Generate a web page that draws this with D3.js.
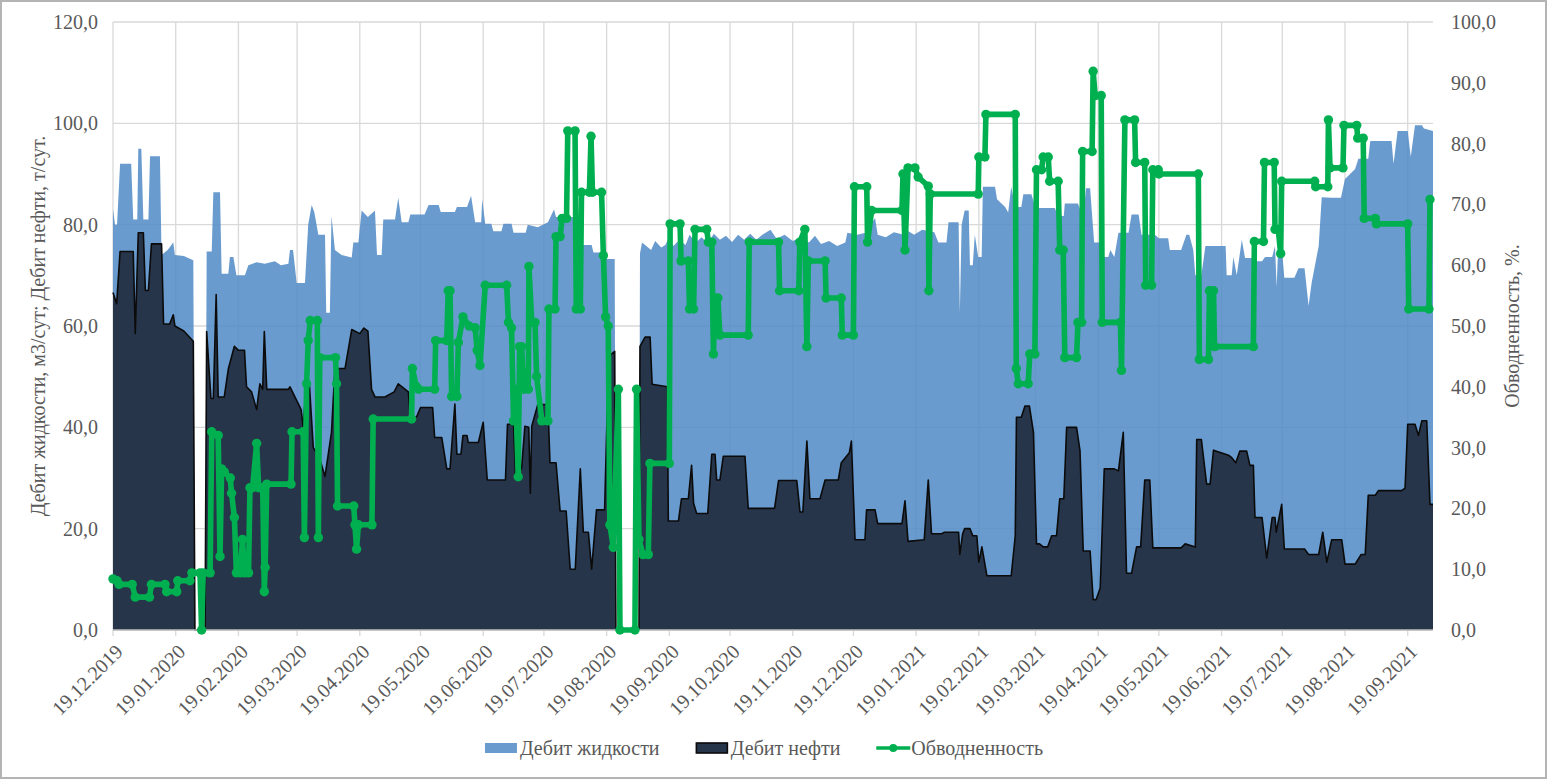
<!DOCTYPE html>
<html>
<head>
<meta charset="utf-8">
<script src="https://cdn.jsdelivr.net/npm/d3@7"></script>
<style>
  html, body { margin: 0; padding: 0; background: #fff; }
  svg text { font-family: "Liberation Serif", "Times New Roman", "DejaVu Serif", serif; }
</style>
</head>
<body>
<svg id="chart" width="1547" height="779"></svg>
<script>
// series are [day since START, value] vertices
const START = "19.12.2019";
const LAST_DAY = 652.5;

const dateTicks = ["19.12.2019", "19.01.2020", "19.02.2020", "19.03.2020", "19.04.2020",
  "19.05.2020", "19.06.2020", "19.07.2020", "19.08.2020", "19.09.2020", "19.10.2020",
  "19.11.2020", "19.12.2020", "19.01.2021", "19.02.2021", "19.03.2021", "19.04.2021",
  "19.05.2021", "19.06.2021", "19.07.2021", "19.08.2021", "19.09.2021"];
const leftTicks = [0, 20, 40, 60, 80, 100, 120];
const rightTicks = [0, 10, 20, 30, 40, 50, 60, 70, 80, 90, 100];
const seriesNames = ["Дебит жидкости", "Дебит нефти", "Обводненность"];

// Дебит жидкости, м3/сут
const liquidRate = [[0,83],[1,80],[2,80],[3.5,92],[9,92],[10,81],[12,81],[12.5,95],[14,95],[15,81],[17.5,81],
  [18.3,93.5],[23.2,93.5],[24,74],[27,75],[29.8,76.5],[30.6,74],[35,73.8],[39.7,73],[40.5,0],[45.5,0],
  [46.3,74.7],[48.8,74.7],[49.6,86.4],[52.9,86.4],[53.7,70.3],[57,70.3],[57.8,73.6],[59.5,73.6],[61,70],
  [65.2,70],[66.9,72],[71,72.6],[75,72.3],[80,72.8],[83,72],[86.7,72.3],[87.5,75],[89,75],[90.8,68.5],
  [94.9,68.5],[96.5,80],[98.2,83.9],[99.5,82.5],[101.5,78],[104.8,78],[105.4,62.6],[107.2,62.6],[108,81.7],
  [109.7,75],[113,74],[118,73.5],[118.8,76.5],[121.3,76.5],[122.9,82.8],[126,81.5],[129.5,82.8],[130.5,74],
  [132.8,74],[133.6,81],[139.4,81],[141,85.3],[142.7,80.5],[146,80.5],[147,82],[154,82],[156,83.9],[161,83.9],
  [162,82.5],[169,82.5],[170,83.5],[175,83.5],[177,85.7],[179,80.5],[182,80.5],[182.5,85],[184,80.2],[187,80.2],
  [188,78.7],[192,78.7],[193,80.2],[197,80.2],[198,78.4],[204,78.4],[205,80],[210,79.5],[215,80.5],[218,83],
  [219,81.5],[228,81.5],[229,76],[236.6,76],[237.5,74.5],[243,74.5],[244,73.2],[248,73.2],[248.6,0],[260,0],
  [260.5,74.3],[261.5,76.5],[266,75],[268,76.8],[271,75.5],[273,76],[275,77.5],[277,75.8],[280,77],[283,76],
  [285,78],[288,76.5],[291,77.5],[294,76.3],[297,78.2],[300,77],[303,77.8],[306,76.6],[309,78],[312,77],
  [315,78.2],[318,77],[321,78],[325,79],[328,77.2],[332,78],[336,76.8],[340,77.5],[344,76.5],[347,77.8],
  [350,76.2],[354,76.8],[358,75.8],[362,76.5],[363,78.4],[368,78],[372,78.4],[376.7,81.3],[378,78],[382,77.5],
  [386,78.5],[391,78],[392,79],[396,78],[400,79],[406,78.5],[408,76.5],[412,76.5],[413,80.5],[418,80.5],
  [418.6,62.6],[419.5,80],[421,82.8],[423,82.8],[423.6,72],[425,72],[426,78],[427.7,73.6],[429.4,73.6],
  [430,87.5],[436,87.5],[437,85],[441,83.5],[442.5,82.4],[444,87.5],[446,83.5],[449,83.5],[450,86],[454,86],
  [456,83.3],[465.6,83.3],[467,81.7],[470,81.7],[470.5,84.2],[477,84.2],[478,83.1],[480,83.1],[481,87.2],
  [483,87.2],[485,76.5],[488.6,76.5],[489.5,73.6],[492,73.6],[493,75],[495,73.6],[497,78.4],[502,78.4],
  [503.5,82],[507,82],[508.4,78],[515,78],[517,77.3],[521.6,77.3],[522.4,75],[528,75],[530.6,78],[532,78],
  [534,75],[535,70],[538,70],[540,75.8],[550,75.8],[550.5,70],[553,70],[553.8,73.6],[555.5,70],[558,77],
  [559.6,73.4],[563,73.4],[564.5,72.8],[568,72.8],[569.5,73.6],[573,73.6],[574.4,75.8],[575.2,67.7],[576,75.8],
  [577.7,75.8],[579,69.5],[584,69.5],[586,71.4],[589,71.4],[591,64],[592.5,68.5],[596,75.8],[597.5,85.4],
  [602,85.3],[607,85.3],[609,89],[614,91],[615.6,93],[620.5,93],[621.5,96.5],[632,96.5],[633,92],[635,98.5],
  [640,98.5],[641.5,93.4],[643.6,99.6],[647,99.6],[648,99],[652.5,98.5]];

// Дебит нефти, т/сут
const oilRate = [[0,66.6],[1.8,64.4],[3.5,74.7],[10,74.7],[11,58.5],[12.5,78.4],[15,78.4],[16,67],[17.5,67],
  [19,76.2],[24,76.2],[25,60.4],[28,60.4],[29.8,62.2],[30.6,60],[35,59],[39.7,57],[40.5,0],[45.5,0],[46.3,58.9],
  [48.4,45.7],[49.6,45.7],[51,66.2],[52,46],[55,46],[57,51.5],[60,56],[62,55.2],[65,55.2],[66,48],[68.5,47],
  [71,43.5],[72.6,48.6],[74,47.5],[74.8,58.9],[76,47.5],[86.7,47.5],[87.5,48],[93,43.5],[94,40],[95.7,49.4],
  [97,49],[99,36],[102,34],[104.8,30.3],[108,39],[109.7,51.6],[114.7,51.6],[118,59.3],[122,58.5],[124,59.6],
  [126,59],[127.8,47.5],[129.5,46],[134.4,46],[139,47],[141,48.6],[146,47],[147,42],[150,42],[152,43.9],
  [158,43.9],[159,38],[162.5,38],[165,31.8],[166.6,31.8],[169,44.6],[170,34.7],[172,34.7],[173,38.4],[175,38.4],
  [175.6,37],[180.6,37],[183,41],[185,29.6],[194,29.6],[195,40.6],[198,40.6],[199,30],[202,32],[203.6,40.2],
  [205.5,40],[206.3,27],[207,40.2],[210,44.5],[215,44.5],[216,33],[219,33],[221,23.5],[224,23.5],[226,12],
  [228.5,12],[231,31.8],[232.5,19.3],[235,19.3],[236.6,12],[239,23.7],[243,23.7],[245,54],[248,55],[248.6,0],
  [260,0],[260.5,56],[263,57.8],[265.5,57.8],[266.5,48.5],[274,48],[274.5,21.5],[279.5,21.5],[281,25.9],
  [284.4,25.9],[286,32.5],[287,25],[288.5,23],[294,23],[296,34.7],[297.6,34.7],[298.4,29.6],[300,29.6],
  [301.7,34.3],[312.4,34.3],[314,24],[327,24],[329,29.5],[338,29.5],[339.6,23.3],[341,23.3],[343,37.3],
  [344.5,25.9],[349.5,25.9],[352,29.6],[358.5,29.6],[360,33],[364,35],[365,37.3],[366.8,17.8],[371.7,17.8],
  [372.5,23.7],[376.7,23.7],[378,21],[390,21],[391.5,25.5],[393,17.5],[401,17.8],[403,29.6],[404.6,19],
  [409.6,19],[411,19.3],[418,19.3],[418.6,14.9],[420,19],[421,20],[423.6,20],[425,18.6],[427,18.6],[428,13.4],
  [429.5,16.4],[432,10.7],[444,10.7],[446,18.6],[446.6,42],[449,42],[450.8,44.2],[453,44.2],[455,39],
  [456.5,17],[458,17],[459.8,16.4],[462,16.4],[464,18.6],[466.4,18.6],[468,25.9],[470,25.9],[471.4,40],
  [476.3,40],[478,35.4],[479.6,15.6],[483,15.6],[484.5,6],[486,6],[488,8.3],[490,31.8],[495,31.8],[497,31.4],
  [499.4,39],[501,11.2],[503.5,11.2],[506,16.4],[508,16.4],[510,29.6],[512.5,29.6],[514,16.2],[528,16.2],
  [530,17],[535,16.4],[535.7,37.6],[538,37.6],[540.6,28.8],[542.3,28.8],[544,35.5],[551.4,34.5],[553,34],
  [555,33],[557,35.3],[560.4,35.3],[562,32.5],[563.7,32.5],[564.5,22.2],[568,22.2],[570.3,14.2],[573,22.2],
  [574.4,22.2],[575,19.3],[577.7,24.8],[579,16],[589,16],[591,14.9],[596,14.9],[598,19.3],[600,13.4],
  [602.4,17.8],[607.4,17.8],[609,13],[614,13],[617,14.9],[619,14.9],[620.5,26.6],[624,26.6],[625.5,27.5],
  [637,27.5],[638.7,28],[640,40.6],[643.6,40.6],[645.3,38.4],[647,41.3],[649.4,41.3],[651,24.8],[652.5,24.8]];

// Обводненность, %
const waterCut = [[0,8.4],[2,8.1],[3,7.5],[9.5,7.5],[11,5.4],[18,5.4],[19,7.5],[25.7,7.5],[26.5,6.3],
  [31.5,6.3],[32,8.1],[38,8.1],[39,9.4],[43,9.4],[43.8,0],[44.6,9.4],[48,9.4],[48.8,32.6],[52,32],[52.9,12.1],
  [53.7,26.5],[55,26],[58,25],[58.6,22.5],[60,18.5],[61,9.4],[63,9.4],[64,14.9],[65,9.4],[67,9.4],[67.7,23.4],
  [69,23.4],[71,30.7],[72,23.4],[74,23.4],[74.8,6.3],[75.2,10.3],[76,24],[88,24],[88.5,32.6],[94,32.6],
  [94.6,15.2],[95.7,40.5],[96.5,47.6],[97.5,50.9],[101,50.9],[101.5,15.2],[102.2,44.8],[110,44.8],[110.5,40.5],
  [111,20.4],[119,20.4],[119.6,17.3],[120.4,13.3],[121.3,17.3],[128,17.3],[128.6,34.7],[147.6,34.7],[148,43],
  [150,40],[151,39.6],[159,39.6],[159.5,47.6],[165,47.6],[165.7,55.8],[166.6,55.8],[167.4,38.4],[170,38.4],
  [170.7,47.3],[173,51.5],[176,50],[179,49.7],[180,46],[181.4,43.5],[184,56.7],[194.6,56.7],[195.5,50.6],
  [197,49.7],[198,34.4],[199,39.6],[200.3,25.2],[201,46.6],[202,46.6],[203,39.6],[205.3,39.6],[205.6,59.8],
  [207,50.6],[208.6,50.6],[209.4,41.7],[212,34.4],[215,34.4],[215.5,52.8],[218.5,52.8],[219,64.7],[221,64.7],
  [222,67.7],[224.2,67.7],[224.8,82.1],[228.4,82.1],[229,52.8],[231,52.8],[231.6,72],[235.5,72],[236.3,81.2],
  [237,72],[241.5,72],[242.4,61.6],[243.5,51.5],[244.8,50],[245.6,17.3],[247.3,13.6],[249.8,39.6],[250.6,0],
  [258,0],[258.8,39.6],[260,14.9],[262,12.4],[264.6,12.4],[265.4,27.4],[275,27.4],[275.4,66.8],[280.3,66.8],
  [280.8,60.7],[284.4,60.7],[285,52.8],[287,52.8],[287.7,65.9],[293.5,65.9],[294.3,63.8],[296,63.8],
  [296.8,45.4],[297.6,54.6],[299,54.6],[300,48.5],[314,48.5],[314.5,63.8],[329,63.8],[329.5,55.8],[339,55.8],
  [339.5,63.8],[342,65.9],[343,46.6],[343.7,60.7],[352,60.7],[352.5,54.6],[360,54.6],[360.5,48.5],[366,48.5],
  [366.5,72.9],[372.6,72.9],[373,63.8],[375,69],[390,69],[390.5,75],[391.5,62.5],[393,76],[396.4,76],
  [398,74.5],[403,73],[403.3,55.8],[404,71.7],[427.7,71.7],[428,77.8],[431,77.8],[431.5,84.8],[446,84.8],
  [446.5,43],[447.5,40.5],[452.4,40.5],[453.2,45.4],[455.7,45.4],[456.5,75.7],[459,75.7],[459.8,77.8],
  [462.3,77.8],[463,73.8],[467.2,73.8],[468,62.5],[469.7,62.5],[470.5,44.8],[476.3,44.8],[477,50.6],
  [478.8,50.6],[479.3,78.7],[484,78.7],[484.5,91.9],[485.5,87.9],[488.5,87.9],[489,50.6],[498,50.6],
  [498.5,42.7],[500.2,83.9],[505,83.9],[505.5,76.9],[510,76.9],[510.5,56.7],[513.4,56.7],[514,75.7],
  [516.7,75.7],[517,75],[536.5,75],[537,44.5],[541.5,44.5],[542,55.8],[544,55.8],[544.5,46.6],[563.7,46.6],
  [564.2,63.9],[568.7,63.9],[569.2,76.9],[574,76.9],[574.4,65.9],[576,65.9],[577.2,61.9],[577.7,73.8],
  [594,73.8],[594.5,72.9],[600.5,72.9],[600.8,83.9],[601.6,76],[608,76],[608.5,83],[614.8,83],[615.3,80.9],
  [618,80.9],[618.5,67.7],[624,67.7],[624.5,66.8],[640,66.8],[640.5,52.8],[650.5,52.8],[651,70.8]];

const W = 1547, H = 779;
const plot = { left: 113, right: 1433, top: 22, bottom: 630 };
const textColor = "#595959";
const gridColor = "#d9d9d9";
const serif = '"Liberation Serif", "Times New Roman", "DejaVu Serif", serif';

const parseDate = d3.utcParse("%d.%m.%Y");
const start = parseDate(START);
const dayToDate = d => new Date(start.getTime() + d * 864e5);
const ru = d3.formatLocale({ decimal: ",", thousands: " ", grouping: [3], currency: ["", ""] });
const fmt = ru.format(".1f");

const x = d3.scaleUtc()
  .domain([start, dayToDate(LAST_DAY)])
  .range([plot.left, plot.right]);
const yL = d3.scaleLinear().domain([0, 120]).range([plot.bottom, plot.top]);
const yR = d3.scaleLinear().domain([0, 100]).range([plot.bottom, plot.top]);

const svg = d3.select("#chart");
svg.append("rect").attr("width", W).attr("height", H).attr("fill", "#fff");

// grid
const grid = svg.append("g");
grid.selectAll("line.h").data(leftTicks).join("line")
  .attr("x1", plot.left).attr("x2", plot.right)
  .attr("y1", d => yL(d)).attr("y2", d => yL(d))
  .attr("stroke", gridColor).attr("stroke-width", 1.3);
grid.selectAll("line.v").data(dateTicks).join("line")
  .attr("x1", d => x(parseDate(d))).attr("x2", d => x(parseDate(d)))
  .attr("y1", plot.top).attr("y2", plot.bottom + 6)
  .attr("stroke", gridColor).attr("stroke-width", 1.3);

// areas
const area = d3.area()
  .x(d => x(dayToDate(d[0]))).y0(yL(0)).y1(d => yL(d[1]));
svg.append("path").datum(liquidRate)
  .attr("d", area)
  .attr("fill", "#4f8ac6").attr("fill-opacity", 0.85);

svg.append("path").datum(oilRate)
  .attr("d", area)
  .attr("fill", "#27354a");
svg.append("path").datum(oilRate)
  .attr("d", d3.line().x(d => x(dayToDate(d[0]))).y(d => yL(d[1])))
  .attr("fill", "none").attr("stroke", "#0b0b0b").attr("stroke-width", 1.6)
  .attr("stroke-linejoin", "round");

// bottom axis line
svg.append("line")
  .attr("x1", plot.left).attr("x2", plot.right)
  .attr("y1", plot.bottom).attr("y2", plot.bottom)
  .attr("stroke", "#bfbfbf").attr("stroke-width", 1.3);

// water cut line with markers
const green = "#00b050";
svg.append("path").datum(waterCut)
  .attr("d", d3.line().x(d => x(dayToDate(d[0]))).y(d => yR(d[1])))
  .attr("fill", "none").attr("stroke", green).attr("stroke-width", 5.6)
  .attr("stroke-linejoin", "round");
svg.append("g").selectAll("circle").data(waterCut).join("circle")
  .attr("cx", d => x(dayToDate(d[0]))).attr("cy", d => yR(d[1]))
  .attr("r", 4.7).attr("fill", green);

// axis labels
const txt = svg.append("g").attr("fill", textColor).attr("font-size", 20).attr("font-family", serif);
txt.selectAll("text.l").data(leftTicks).join("text")
  .attr("x", 98).attr("y", d => yL(d)).attr("dy", "0.35em")
  .attr("text-anchor", "end").text(d => fmt(d));
txt.selectAll("text.r").data(rightTicks).join("text")
  .attr("x", 1451).attr("y", d => yR(d)).attr("dy", "0.35em")
  .text(d => fmt(d));
txt.selectAll("text.x").data(dateTicks).join("text")
  .attr("text-anchor", "end").attr("dy", "0.35em")
  .attr("transform", d => `translate(${x(parseDate(d)) + 6},${plot.bottom + 18}) rotate(-45)`)
  .text(d => d);

txt.append("text")
  .attr("transform", `translate(38,${(plot.top + plot.bottom) / 2}) rotate(-90)`)
  .attr("text-anchor", "middle").attr("dy", "0.35em")
  .text("Дебит жидкости, м3/сут; Дебит нефти, т/сут.");
txt.append("text")
  .attr("transform", `translate(1512,${(plot.top + plot.bottom) / 2}) rotate(-90)`)
  .attr("text-anchor", "middle").attr("dy", "0.35em")
  .text("Обводненность, %.");

// legend
const legend = svg.append("g").attr("font-size", 20).attr("fill", textColor).attr("font-family", serif);
const legY = 748;
const items = legend.selectAll("g").data(seriesNames).join("g");
items.each(function (name, i) {
  const g = d3.select(this);
  if (i === 0) {
    g.append("rect").attr("x", 0).attr("y", -5).attr("width", 32).attr("height", 10)
      .attr("fill", "#4f8ac6").attr("fill-opacity", 0.85);
  } else if (i === 1) {
    g.append("rect").attr("x", 0.5).attr("y", -5).attr("width", 31).attr("height", 10)
      .attr("fill", "#27354a").attr("stroke", "#0b0b0b").attr("stroke-width", 1.6);
  } else {
    g.append("line").attr("x1", 0).attr("x2", 34).attr("y1", 0).attr("y2", 0)
      .attr("stroke", green).attr("stroke-width", 3.5);
    g.append("circle").attr("cx", 17).attr("cy", 0).attr("r", 4).attr("fill", green);
  }
  g.append("text").attr("x", 35).attr("dy", "0.35em").text(name);
});
const widths = [];
items.each(function () { widths.push(this.getBBox().width); });
const gap = 36;
const total = d3.sum(widths) + gap * (widths.length - 1);
let lx = 764 - total / 2;
items.attr("transform", (d, i) => {
  const t = `translate(${lx},${legY})`;
  lx += widths[i] + gap;
  return t;
});

// outer border
svg.append("rect").attr("x", 1).attr("y", 1).attr("width", W - 2).attr("height", H - 2)
  .attr("fill", "none").attr("stroke", "#b4b4b4").attr("stroke-width", 2);
</script>
</body>
</html>
